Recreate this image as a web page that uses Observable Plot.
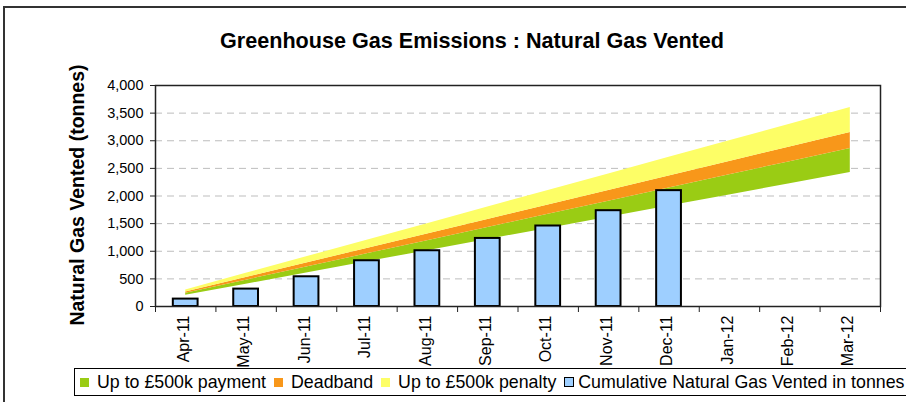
<!DOCTYPE html>
<html>
<head>
<meta charset="utf-8">
<script src="https://cdn.jsdelivr.net/npm/d3@7"></script>
<script src="https://cdn.jsdelivr.net/npm/@observablehq/plot@0.6"></script>
<style>
  html, body { margin: 0; padding: 0; background: #fff; overflow: hidden; }
  body { width: 906px; height: 402px; position: relative; font-family: Arial, "Liberation Sans", sans-serif; }
  #frame { position: absolute; left: 3px; top: 6px; width: 1000px; height: 600px; border: 2px solid #333; box-sizing: border-box; }
  #title { position: absolute; left: 172px; width: 600px; top: 29px; line-height: 24px; text-align: center; font-weight: bold; font-size: 21.6px; color: #000; }
  #ylabel { position: absolute; left: -123px; width: 400px; top: 183px; line-height: 24px; text-align: center; font-weight: bold; font-size: 19.5px; transform: rotate(-90deg); color: #000; }
  #chart { position: absolute; left: 0; top: 60px; }
  #legend { position: absolute; left: 74px; top: 368px; width: 860px; height: 28px; border: 1px solid #000; box-sizing: border-box; display: flex; align-items: center; font-size: 17.8px; white-space: nowrap; padding-left: 5px; }
  .item { display: flex; align-items: center; margin-right: 8px; }
  .sw { width: 9px; height: 9px; margin-right: 8px; box-sizing: border-box; }
</style>
</head>
<body>
<div id="frame"></div>
<div id="title">Greenhouse Gas Emissions : Natural Gas Vented</div>
<div id="ylabel">Natural Gas Vented (tonnes)</div>
<div id="chart"></div>
<div id="legend"></div>
<script>
// ---- data ----
const months = ["Apr-11","May-11","Jun-11","Jul-11","Aug-11","Sep-11","Oct-11","Nov-11","Dec-11","Jan-12","Feb-12","Mar-12"];
const vented = [134, 315, 538, 828, 1009, 1232, 1457, 1734, 2097];
// cumulative band limits (tonnes)
const paymentLow   = [202, 404, 606, 808, 1010, 1212, 1414, 1616, 1818, 2020, 2222, 2425];
const paymentHigh  = [238, 477, 715, 953, 1192, 1430, 1668, 1907, 2145, 2383, 2622, 2860];
const deadbandHigh = [263, 525, 788, 1050, 1313, 1575, 1838, 2100, 2363, 2625, 2888, 3150];
const penaltyHigh  = [300, 600, 900, 1200, 1500, 1800, 2100, 2400, 2700, 3000, 3300, 3600];
const yTicks = [0, 500, 1000, 1500, 2000, 2500, 3000, 3500, 4000];
const legendLabels = ["Up to £500k payment", "Deadband", "Up to £500k penalty", "Cumulative Natural Gas Vented in tonnes"];

const colors = { payment: "#9ACC14", deadband: "#F8971A", penalty: "#FDFE66", bar: "#9ECFFF" };

const bands = months.map((m, i) => ({
  i, m,
  low: paymentLow[i], pay: paymentHigh[i], dead: deadbandHigh[i], pen: penaltyHigh[i]
}));
const bars = vented.map((v, i) => ({ i, v }));
const cx = d => d.i + 0.5;
const half = 0.205;

const chart = Plot.plot({
  width: 906,
  height: 306,
  marginTop: 25,
  marginLeft: 155,
  marginRight: 26,
  marginBottom: 60,
  style: { fontFamily: "Arial, 'Liberation Sans', sans-serif", background: "transparent", color: "#000", overflow: "visible" },
  x: { type: "linear", domain: [0, months.length], axis: null },
  y: { domain: [0, 4000], axis: null },
  marks: [
    Plot.ruleY(yTicks.slice(1, -1), { stroke: "#bdbdbd", strokeDasharray: "7,5", strokeWidth: 1 }),
    Plot.areaY(bands, { x: cx, y1: "low", y2: "pay", fill: colors.payment }),
    Plot.areaY(bands, { x: cx, y1: "pay", y2: "dead", fill: colors.deadband }),
    Plot.areaY(bands, { x: cx, y1: "dead", y2: "pen", fill: colors.penalty }),
    Plot.rect(bars, { x1: d => cx(d) - half, x2: d => cx(d) + half, y1: 0, y2: "v", fill: colors.bar, stroke: "#000", strokeWidth: 2 }),
    Plot.frame({ stroke: "#222", strokeWidth: 1.5 }),
    Plot.axisY(yTicks, { tickSize: 5, tickPadding: 7, tickFormat: d3.format(","), fontSize: 14.5, label: null, stroke: "#222" }),
    Plot.axisX(d3.range(months.length + 1), { tickSize: 6, tickFormat: () => "", label: null, stroke: "#222" }),
    Plot.axisX(months.map((m, i) => i + 0.5), { tickSize: 0, tickPadding: 9, tickRotate: -90, tickFormat: d => months[Math.floor(d)], fontSize: 16, dx: -2, label: null })
  ]
});
document.getElementById("chart").appendChild(chart);

// legend
const legend = document.getElementById("legend");
const swatches = [
  { fill: colors.payment, border: "none" },
  { fill: colors.deadband, border: "none" },
  { fill: colors.penalty, border: "none" },
  { fill: colors.bar, border: "1.5px solid #000" }
];
legendLabels.forEach((label, k) => {
  const item = document.createElement("div");
  item.className = "item";
  const sw = document.createElement("span");
  sw.className = "sw";
  sw.style.background = swatches[k].fill;
  sw.style.border = swatches[k].border;
  if (k === 3) { sw.style.width = "10px"; sw.style.height = "10px"; sw.style.marginRight = "4px"; }
  const t = document.createElement("span");
  t.textContent = label;
  item.appendChild(sw);
  item.appendChild(t);
  legend.appendChild(item);
});
</script>
</body>
</html>
